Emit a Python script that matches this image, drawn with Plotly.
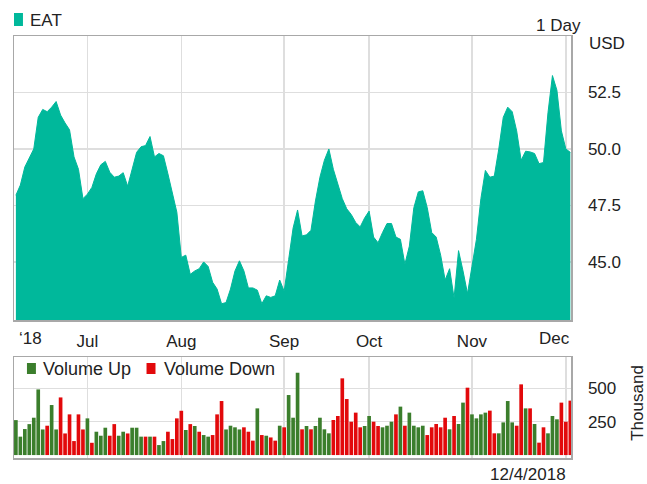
import plotly.graph_objects as go
import pandas as pd

# ---------------- data ----------------
trading_days = pd.bdate_range("2018-06-08", "2018-12-04", freq="C",
                              holidays=["2018-07-04", "2018-09-03", "2018-11-22"])
dates = [d.strftime("%Y-%m-%d") for d in trading_days]

price = [
    47.95, 48.4, 49.2, 49.6, 50.0, 51.4, 51.75, 51.65, 51.85, 52.1,
    51.5, 51.15, 50.85, 49.65, 49.1, 47.8, 48.0, 48.3, 48.9, 49.3,
    49.45, 48.97, 48.75, 48.8, 48.95, 48.35, 49.1, 49.85, 50.1, 50.15,
    50.55, 49.65, 49.8, 49.7, 48.9, 48.1, 47.2, 45.2, 45.3, 44.45,
    44.6, 44.7, 45.0, 44.8, 44.1, 43.8, 43.15, 43.2, 43.8, 44.6,
    45.05, 44.6, 43.85, 43.85, 43.75, 43.15, 43.5, 43.43, 43.5, 44.2,
    43.7, 45.1, 46.5, 47.3, 46.15, 46.2, 46.4, 47.7, 48.75, 49.5,
    50.0, 49.1, 48.5, 47.8, 47.35, 47.1, 46.75, 46.55, 46.95, 47.25,
    46.1, 45.85, 46.3, 46.7, 46.7, 46.1, 46.0, 44.9, 45.7, 47.4,
    48.1, 48.15, 47.4, 46.3, 46.1, 45.3, 44.2, 44.7, 43.4, 45.5,
    44.6, 43.6, 44.8, 46.0, 47.8, 49.05, 48.75, 48.8, 50.0, 51.4,
    51.85, 51.65, 50.8, 49.5, 49.9, 49.87, 49.8, 49.35, 49.4, 51.6,
    53.25, 52.6, 50.8, 50.0, 49.85,
]

volume = [  # thousands of shares
    262, 138, 195, 232, 280, 492, 192, 220, 375, 192,
    432, 162, 305, 105, 305, 192, 275, 92, 175, 145,
    205, 145, 232, 145, 175, 162, 205, 205, 138, 138,
    138, 138, 75, 105, 175, 120, 275, 332, 188, 232,
    218, 175, 150, 138, 150, 305, 405, 192, 220, 208,
    192, 208, 175, 108, 350, 150, 145, 132, 108, 220,
    208, 450, 280, 617, 193, 218, 193, 218, 280, 193,
    163, 263, 293, 575, 420, 250, 318, 208, 218, 293,
    250, 218, 208, 220, 250, 305, 363, 220, 318, 220,
    208, 220, 150, 208, 233, 208, 280, 193, 293, 233,
    393, 505, 305, 275, 305, 318, 333, 163, 163, 245,
    405, 245, 220, 530, 350, 350, 233, 93, 208, 163,
    293, 268, 393, 250, 408,
]

direction = list(
    "UUUUUUU" "DUUDDD" "DDDUDU" "UUDDUU" "DUUUDU" "DUUDDD" "DUDUDU"
    "UDDDUU" "UUDDDU" "DUDDUDUU" "UDUDUUUU" "DDDDDDD" "UUDDUUU" "DUDUUUU"
    "DDDDDUD" "UUDUUUU" "DDUUUUD" "DUDUDD" "UUUDDD"
)

month_ticks = ["2018-07-02", "2018-08-01", "2018-09-04", "2018-10-01",
               "2018-11-01", "2018-12-03"]
month_labels = ["Jul", "Aug", "Sep", "Oct", "Nov", ""]
price_ticks = [45, 47.5, 50, 52.5]
volume_ticks = [250, 500]

# ---------------- style ----------------
W, H = 647, 484
L, R, T, B = 12, 571, 36, 458          # plot area in px
TEAL = "#00b89b"
GREEN = "#3b7e2c"
RED = "#e2090b"
GRID = "#dedede"
BORDER = "#a8a8a8"
FONT = "Liberation Sans, Arial, sans-serif"
FS = 17
TXT = "#222222"


def px(x):
    return (x - L) / (R - L)


def py(y):
    return (B - y) / (B - T)


price_dom = [py(320), 1.0]
vol_dom = [0.0, py(357)]
xrange_ = [-0.42, 124.15]

fig = go.Figure()
fig.add_trace(go.Scatter(
    x=dates, y=price, mode="lines", fill="tozeroy", fillcolor=TEAL,
    line=dict(color=TEAL, width=1), xaxis="x", yaxis="y",
    showlegend=False, hoverinfo="skip"))
fig.add_trace(go.Bar(
    x=dates, y=volume, xaxis="x2", yaxis="y2",
    marker=dict(color=[GREEN if d == "U" else RED for d in direction],
                line=dict(width=0)),
    showlegend=False, hoverinfo="skip"))

axis_common = dict(showline=True, mirror=True, linecolor=BORDER, linewidth=1.5,
                   showgrid=True, gridcolor=GRID, gridwidth=1.5, zeroline=False,
                   tickfont=dict(family=FONT, size=FS, color=TXT))

fig.update_layout(
    width=W, height=H,
    margin=dict(l=L, r=W - R, t=T, b=H - B),
    paper_bgcolor="white", plot_bgcolor="white",
    bargap=0.18,
    xaxis=dict(type="category", categoryorder="array", categoryarray=dates,
               range=xrange_, domain=[0, 1], anchor="y",
               tickvals=month_ticks, ticktext=month_labels,
               ticks="outside", ticklen=5, tickcolor="rgba(0,0,0,0)",
               **axis_common),
    xaxis2=dict(type="category", categoryorder="array", categoryarray=dates,
                range=xrange_, domain=[0, 1], anchor="y2",
                tickvals=month_ticks, showticklabels=False, ticks="",
                **axis_common),
    yaxis=dict(domain=price_dom, range=[42.43, 55], side="right", anchor="x",
               tickvals=price_ticks, tickformat=".1f",
               ticks="outside", ticklen=12, tickcolor="rgba(0,0,0,0)",
               **axis_common),
    yaxis2=dict(domain=vol_dom, range=[-22, 735], side="right", anchor="x2",
                tickvals=volume_ticks,
                ticks="outside", ticklen=12, tickcolor="rgba(0,0,0,0)",
                **axis_common),
)

ann = []


def text(s, x, y, xanchor="left", angle=0, size=FS):
    ann.append(dict(text=s, x=px(x), y=py(y), xref="paper", yref="paper",
                    xanchor=xanchor, yanchor="middle", showarrow=False,
                    font=dict(family=FONT, size=size, color=TXT),
                    textangle=angle))


text("EAT", 26, 20)
text("1 Day", 583, 25, "right")
text("USD", 587, 44)
text("\u201818", 29, 338, "center")
text("Dec", 554, 338, "center")
text("Volume Up", 39, 369, size=18)
text("Volume Down", 161, 369, size=18)
text("Thousand", 637, 403, "center", -90)
text("12/4/2018", 568, 474, "right")
fig.update_layout(annotations=ann)

shapes = []
for (x0, x1, y0, y1, c) in [(12, 21, 13, 26, TEAL), (25, 34, 363, 374, GREEN),
                            (145, 154, 363, 374, RED)]:
    shapes.append(dict(type="rect", xref="paper", yref="paper",
                       x0=px(x0), x1=px(x1), y0=py(y1), y1=py(y0),
                       fillcolor=c, line=dict(width=0)))
fig.update_layout(shapes=shapes)

fig.write_html("out.html",
               config={"displayModeBar": False, "staticPlot": True},
               post_script="document.body.style.margin='0';"
                           "document.body.style.overflow='hidden';")
